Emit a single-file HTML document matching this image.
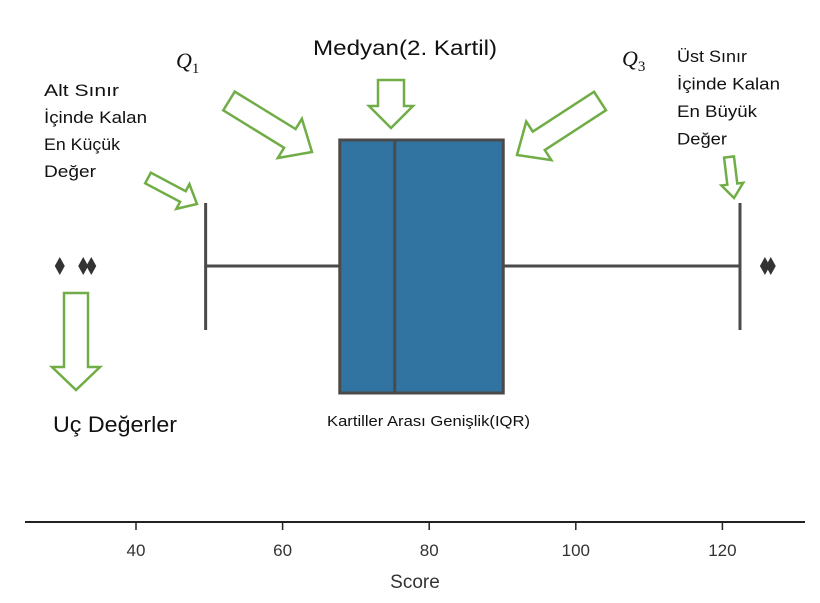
<!DOCTYPE html>
<html><head><meta charset="utf-8"><style>
body{margin:0;background:#fff;}
</style></head><body>
<svg id="chart" width="820" height="598" xmlns="http://www.w3.org/2000/svg" style="font-family:'Liberation Sans',sans-serif">
<g id="marks"></g>
<g id="axis"></g>
<g id="notes"></g>
</svg>
<script>
const tickValues=[40,60,80,100,120];
const tickLabels=["40","60","80","100","120"];
const whiskerLow=[49.5];
const quartile1=[67.8];
const median=[75.3];
const quartile3=[90.1];
const whiskerHigh=[122.4];
const outliers=[29.6,32.8,33.9,125.8,126.6];

const NS="http://www.w3.org/2000/svg";
const x=v=>136+(v-40)*7.33;
const cy=266, boxTop=140, boxBot=393;
function mk(tag,attrs,parent){const e=document.createElementNS(NS,tag);for(const k in attrs)e.setAttribute(k,attrs[k]);parent.appendChild(e);return e;}
const marks=document.getElementById('marks'),axis=document.getElementById('axis'),notes=document.getElementById('notes');
const stroke="#4a4a4a";
let l=mk('line',{x1:x(whiskerLow[0]),x2:x(quartile1[0]),y1:cy,y2:cy,stroke:stroke,'stroke-width':3},marks);

l=mk('line',{x1:x(quartile3[0]),x2:x(whiskerHigh[0]),y1:cy,y2:cy,stroke:stroke,'stroke-width':3},marks);

l=mk('line',{x1:x(whiskerLow[0]),x2:x(whiskerLow[0]),y1:203,y2:330,stroke:stroke,'stroke-width':3},marks);

l=mk('line',{x1:x(whiskerHigh[0]),x2:x(whiskerHigh[0]),y1:203,y2:330,stroke:stroke,'stroke-width':3},marks);

let b=mk('rect',{x:x(quartile1[0]),y:boxTop,width:x(quartile3[0])-x(quartile1[0]),height:boxBot-boxTop,fill:"#3274a1",stroke:stroke,'stroke-width':3},marks);

l=mk('line',{x1:x(median[0]),x2:x(median[0]),y1:boxTop,y2:boxBot,stroke:stroke,'stroke-width':3},marks);

outliers.forEach(v=>{const px=x(v);
 const p=mk('polygon',{points:`${px},${cy-9} ${px+5},${cy} ${px},${cy+9} ${px-5},${cy}`,fill:"#333"},marks);
 });
l=mk('line',{x1:25,x2:805,y1:522,y2:522,stroke:"#222",'stroke-width':2},axis);

tickValues.forEach((v,i)=>{
 const t=mk('line',{x1:x(v),x2:x(v),y1:522,y2:530,stroke:"#222",'stroke-width':1.5},axis);
 
 const tx=mk('text',{x:x(v),y:556,'text-anchor':'middle','font-size':17,fill:"#333"},axis);tx.textContent=tickLabels[i];
 });
let st=mk('text',{x:415,y:588,'text-anchor':'middle','font-size':19,fill:"#333"},axis);st.textContent="Score";

function arrow(x1,y1,x2,y2,sw,hw,hl,name){
 const dx=x2-x1,dy=y2-y1,L=Math.hypot(dx,dy),ux=dx/L,uy=dy/L,nx=-uy,ny=ux;
 const bx=x2-ux*hl,by=y2-uy*hl;
 const pts=[[x1+nx*sw/2,y1+ny*sw/2],[bx+nx*sw/2,by+ny*sw/2],[bx+nx*hw/2,by+ny*hw/2],[x2,y2],[bx-nx*hw/2,by-ny*hw/2],[bx-nx*sw/2,by-ny*sw/2],[x1-nx*sw/2,y1-ny*sw/2]];
 const p=mk('polygon',{points:pts.map(q=>q.join(',')).join(' '),fill:"#fff",stroke:"#70ad47",'stroke-width':2.5},notes);
 }
arrow(229,101,312,152,22,46,26,'q1-arrow');
arrow(391,80,391,128,26,44,22,'median-arrow');
arrow(600,101,517,155,22,46,26,'q3-arrow');
arrow(148,178,197,204,12,28,16,'lower-bound-arrow');
arrow(729,157,734,198,10,22,14,'upper-bound-arrow');
arrow(76,293,76,390,24,48,23,'outlier-arrow');
function txt(s,xx,yy,fs,name,w,extra){const a=Object.assign({x:xx,y:yy,'font-size':fs,fill:"#111"},extra||{});if(w){a.textLength=w;a.lengthAdjust='spacingAndGlyphs';}const t=mk('text',a,notes);t.textContent=s;return t;}
let q=mk('text',{x:176,y:68,'font-size':22,style:"font-family:'Liberation Serif',serif;font-style:italic",fill:'#111'},notes);q.innerHTML='Q<tspan font-size="15" dy="5" style="font-style:normal">1</tspan>';

q=mk('text',{x:622,y:66,'font-size':22,style:"font-family:'Liberation Serif',serif;font-style:italic",fill:'#111'},notes);q.innerHTML='Q<tspan font-size="15" dy="5" style="font-style:normal">3</tspan>';

txt("Medyan(2. Kartil)",313,55,21,'median-label',184);
const lw=[75,103,76,52];
["Alt Sınır","İçinde Kalan","En Küçük","Değer"].forEach((s,i)=>txt(s,44,96+i*27,17,'lower-bound-label',lw[i]));
const uw=[70,103,80,50];
["Üst Sınır","İçinde Kalan","En Büyük","Değer"].forEach((s,i)=>txt(s,677,62+i*27.5,17,'upper-bound-label',uw[i]));
txt("Uç Değerler",53,432,22,'outliers-label',124);
txt("Kartiller Arası Genişlik(IQR)",327,426,15,'iqr-label',203);
</script>
</body></html>
